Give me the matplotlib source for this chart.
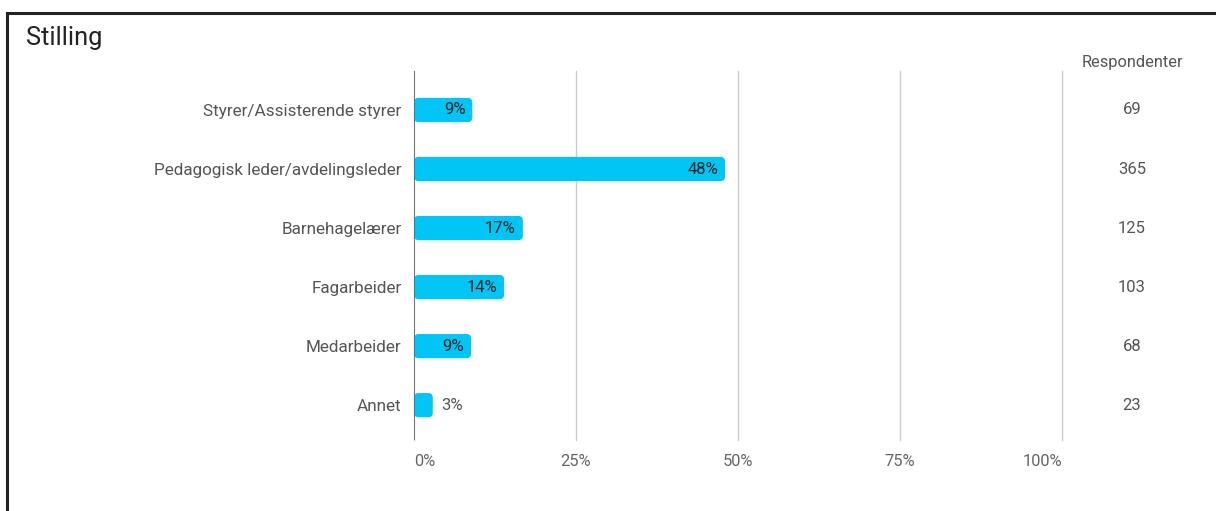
import matplotlib
matplotlib.use("Agg")
import matplotlib.pyplot as plt
import matplotlib.transforms as mtransforms
from matplotlib.patches import FancyBboxPatch
from matplotlib.lines import Line2D

plt.rcParams['font.family'] = ['Roboto', 'DejaVu Sans']

# data
kategorier = ["Styrer/Assisterende styrer", "Pedagogisk leder/avdelingsleder",
              "Barnehagelærer", "Fagarbeider", "Medarbeider", "Annet"]
respondenter = [69, 365, 125, 103, 68, 23]
prosent = [9.0, 48.0, 16.8, 13.9, 8.8, 2.9]
prosent_tekst = ["9%", "48%", "17%", "14%", "9%", "3%"]
xticks = [0, 25, 50, 75, 100]
xtick_tekst = ["0%", "25%", "50%", "75%", "100%"]

W, H = 1216, 511
fig = plt.figure(figsize=(W / 100, H / 100), dpi=100, facecolor='white')

# ramme rundt figuren (topp og venstre)
fig.add_artist(Line2D([7 / W, 1], [1 - 13 / H, 1 - 13 / H], color='#222222', lw=2.2))
fig.add_artist(Line2D([7 / W, 7 / W], [0, 1 - 13 / H], color='#222222', lw=2.2))

fig.text(26 / W, 1 - 38 / H, "Stilling", fontsize=18.3, color='#222222', va='center', ha='left')

ax = fig.add_axes([414 / W, 1 - 440 / H, (1062 - 414) / W, (440 - 71) / H])
ax.set_xlim(0, 100)
ax.set_ylim(5.59, -0.66)
for s in ax.spines.values():
    s.set_visible(False)
ax.set_yticks(range(len(kategorier)))
ax.set_yticklabels(kategorier, fontsize=12.3, color='#555555')
ax.tick_params(axis='y', length=0, pad=9)
ax.set_xticks(xticks)
ax.set_xticklabels(xtick_tekst, fontsize=11.8, color='#666666')
ax.tick_params(axis='x', length=0, pad=10)
for lbl, ha in zip(ax.get_xticklabels(), ['left', 'center', 'center', 'center', 'right']):
    lbl.set_ha(ha)
ax.grid(axis='x', color='#cccccc', lw=1)
for gl in ax.get_xgridlines():
    gl.set_clip_on(False)
ax.set_axisbelow(True)
ax.axvline(0, color='#666666', lw=1.2, zorder=3)

bh = 0.41
for i, (v, t) in enumerate(zip(prosent, prosent_tekst)):
    p = FancyBboxPatch((0, i - bh / 2), v, bh,
                       boxstyle="round,pad=0,rounding_size=0.7",
                       mutation_aspect=6.48 / 59,
                       fc='#00c5f5', ec='none', zorder=2)
    ax.add_patch(p)
    if v > 6:
        ax.annotate(t, (v, i), xytext=(-5, 0), textcoords='offset points',
                    ha='right', va='center', fontsize=12, color='#222222')
    else:
        ax.annotate(t, (v, i), xytext=(6, 0), textcoords='offset points',
                    ha='left', va='center', fontsize=12, color='#555555')

# respondenter-kolonne
trans = mtransforms.blended_transform_factory(fig.transFigure, ax.transData)
fig.text(1132 / W, 1 - 62 / H, "Respondenter", fontsize=11.8, color='#555555',
         ha='center', va='center')
for i, n in enumerate(respondenter):
    ax.text(1132 / W, i, str(n), transform=trans, ha='center', va='center',
            fontsize=12, color='#555555', clip_on=False)

fig.savefig("out.png", dpi=100, facecolor='white')
